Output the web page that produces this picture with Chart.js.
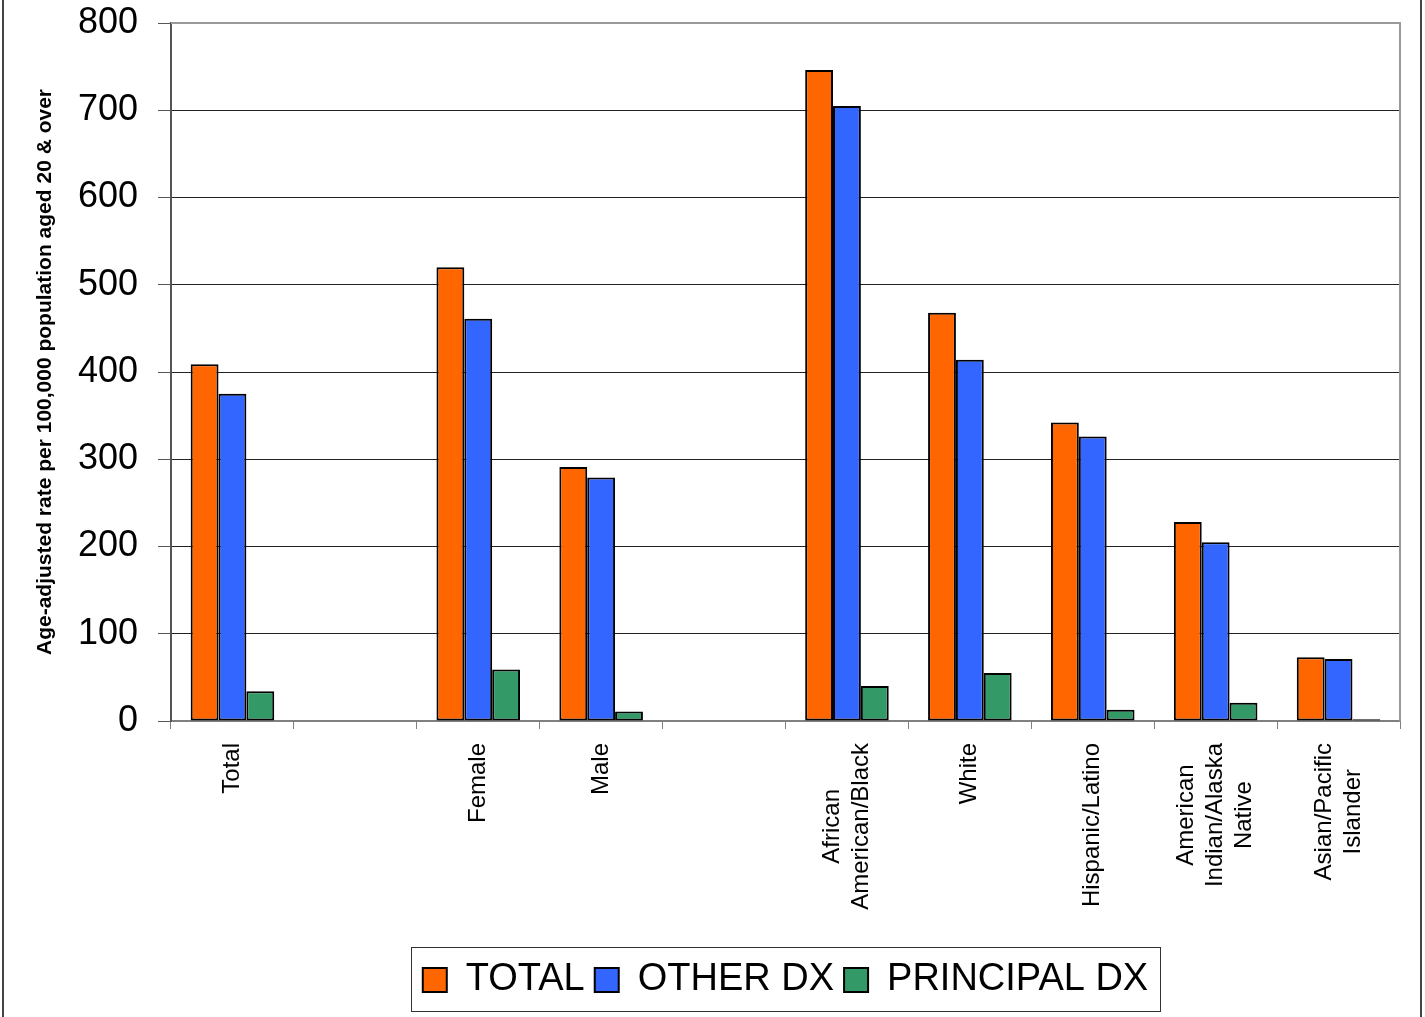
<!DOCTYPE html>
<html>
<head>
<meta charset="utf-8">
<script src="https://cdn.jsdelivr.net/npm/chart.js@4.4.1/dist/chart.umd.min.js"></script>
<style>
  html, body { margin: 0; padding: 0; background: #fff; }
  canvas { display: block; }
</style>
</head>
<body>
<canvas id="chart" width="1425" height="1017"></canvas>
<script>
// categories (empty entries are the gaps between groups)
const categories = [
  ['Total'],
  [''],
  ['Female'],
  ['Male'],
  [''],
  ['African', 'American/Black'],
  ['White'],
  ['Hispanic/Latino'],
  ['American', 'Indian/Alaska', 'Native'],
  ['Asian/Pacific', 'Islander'],
];

const totalValues     = [409, null, 520, 291, null, 746, 468, 342, 228, 73];
const otherDxValues   = [375, null, 461, 279, null, 705, 414, 326, 205, 71];
const principalValues = [34,  null, 59,  11,  null, 40,  55,  13,  21,  2];

const yTicks = [0, 100, 200, 300, 400, 500, 600, 700, 800];

const FONT = "'Liberation Sans', Arial, sans-serif";

// x labels drawn rotated, lines centred like the original
const xLabelPlugin = {
  id: 'xLabels',
  afterDraw(chart) {
    const ctx = chart.ctx;
    const xs = chart.scales.x;
    const lh = 29;
    ctx.save();
    ctx.font = '24px ' + FONT;
    ctx.fillStyle = '#000';
    ctx.textBaseline = 'middle';
    ctx.textAlign = 'center';
    categories.forEach((lines, i) => {
      const x = xs.getPixelForTick(i);
      const maxW = Math.max(...lines.map(l => ctx.measureText(l).width));
      ctx.save();
      ctx.translate(x, xs.top + 22);
      ctx.rotate(-Math.PI / 2);
      lines.forEach((l, k) => {
        ctx.fillText(l, -maxW / 2, (k - (lines.length - 1) / 2) * lh);
      });
      ctx.restore();
    });
    ctx.restore();
  }
};

// frame round plot, legend box, page border
const framePlugin = {
  id: 'frames',
  beforeDraw(chart) {
    const ctx = chart.ctx;
    ctx.save();
    ctx.fillStyle = '#fff';
    ctx.fillRect(0, 0, chart.width, chart.height);
    ctx.restore();
  },
  afterDraw(chart) {
    const ctx = chart.ctx;
    const a = chart.chartArea;
    ctx.save();
    ctx.strokeStyle = '#999';
    ctx.lineWidth = 2;
    ctx.beginPath();
    ctx.moveTo(a.left, a.top);
    ctx.lineTo(a.right, a.top);
    ctx.lineTo(a.right, a.bottom);
    ctx.stroke();

    const boxes = chart.legend.legendHitBoxes;
    if (boxes && boxes.length) {
      const l = Math.min(...boxes.map(b => b.left));
      const r = Math.max(...boxes.map(b => b.left + b.width));
      const t = Math.min(...boxes.map(b => b.top));
      const btm = Math.max(...boxes.map(b => b.top + b.height));
      ctx.strokeStyle = '#333';
      ctx.lineWidth = 1;
      ctx.strokeRect(Math.round(l - 12) + 0.5, Math.round(t - 14) + 0.5,
                     Math.round(r - l + 24), Math.round(btm - t + 26));
    }

    ctx.strokeStyle = '#444';
    ctx.lineWidth = 2;
    ctx.beginPath();
    ctx.moveTo(3, 0); ctx.lineTo(3, chart.height);
    ctx.moveTo(1421, 0); ctx.lineTo(1421, chart.height);
    ctx.stroke();
    ctx.restore();
  }
};

const ds = (label, data, color) => ({
  label,
  data,
  backgroundColor: color,
  borderColor: '#000',
  borderWidth: 2,
  borderSkipped: false,
  categoryPercentage: 0.68,
  barPercentage: 1.0,
});

new Chart(document.getElementById('chart'), {
  type: 'bar',
  data: {
    labels: categories.map(c => c.join(' ')),
    datasets: [
      ds('TOTAL', totalValues, '#FF6600'),
      ds('OTHER DX', otherDxValues, '#3366FF'),
      ds('PRINCIPAL DX', principalValues, '#339966'),
    ],
  },
  options: {
    responsive: false,
    animation: false,
    layout: { padding: { left: 0, right: 25, top: 23, bottom: 8 } },
    plugins: {
      tooltip: { enabled: false },
      legend: {
        position: 'bottom',
        fullSize: false,
        labels: {
          font: { family: FONT, size: 38 },
          color: '#000',
          boxWidth: 24,
          boxHeight: 24,
          padding: 10,
        },
      },
    },
    scales: {
      x: {
        offset: true,
        grid: {
          offset: true,
          drawOnChartArea: false,
          drawTicks: true,
          tickLength: 8,
          color: '#808080',
        },
        border: { color: '#808080', width: 2 },
        ticks: { display: false },
        afterFit(scale) { scale.height = 230; },
      },
      y: {
        min: 0,
        max: 800,
        afterBuildTicks(scale) { scale.ticks = yTicks.map(v => ({ value: v })); },
        ticks: {
          font: { family: FONT, size: 36 },
          color: '#000',
          padding: 20,
        },
        grid: {
          color: ctx => (ctx.tick && ctx.tick.value === 800 ? '#999' : '#222'),
          lineWidth: 1,
          tickLength: 13,
          tickColor: '#555',
        },
        border: { color: '#555', width: 2 },
        title: {
          display: true,
          text: 'Age-adjusted rate per 100,000 population aged 20 & over',
          font: { family: FONT, size: 21, weight: 'bold' },
          color: '#000',
          padding: { top: 33, bottom: 0 },
        },
        afterFit(scale) {
          scale.width = 171;
          scale.paddingTop = 0;
          scale.paddingBottom = 0;
        },
      },
    },
  },
  plugins: [xLabelPlugin, framePlugin],
});
</script>
</body>
</html>
